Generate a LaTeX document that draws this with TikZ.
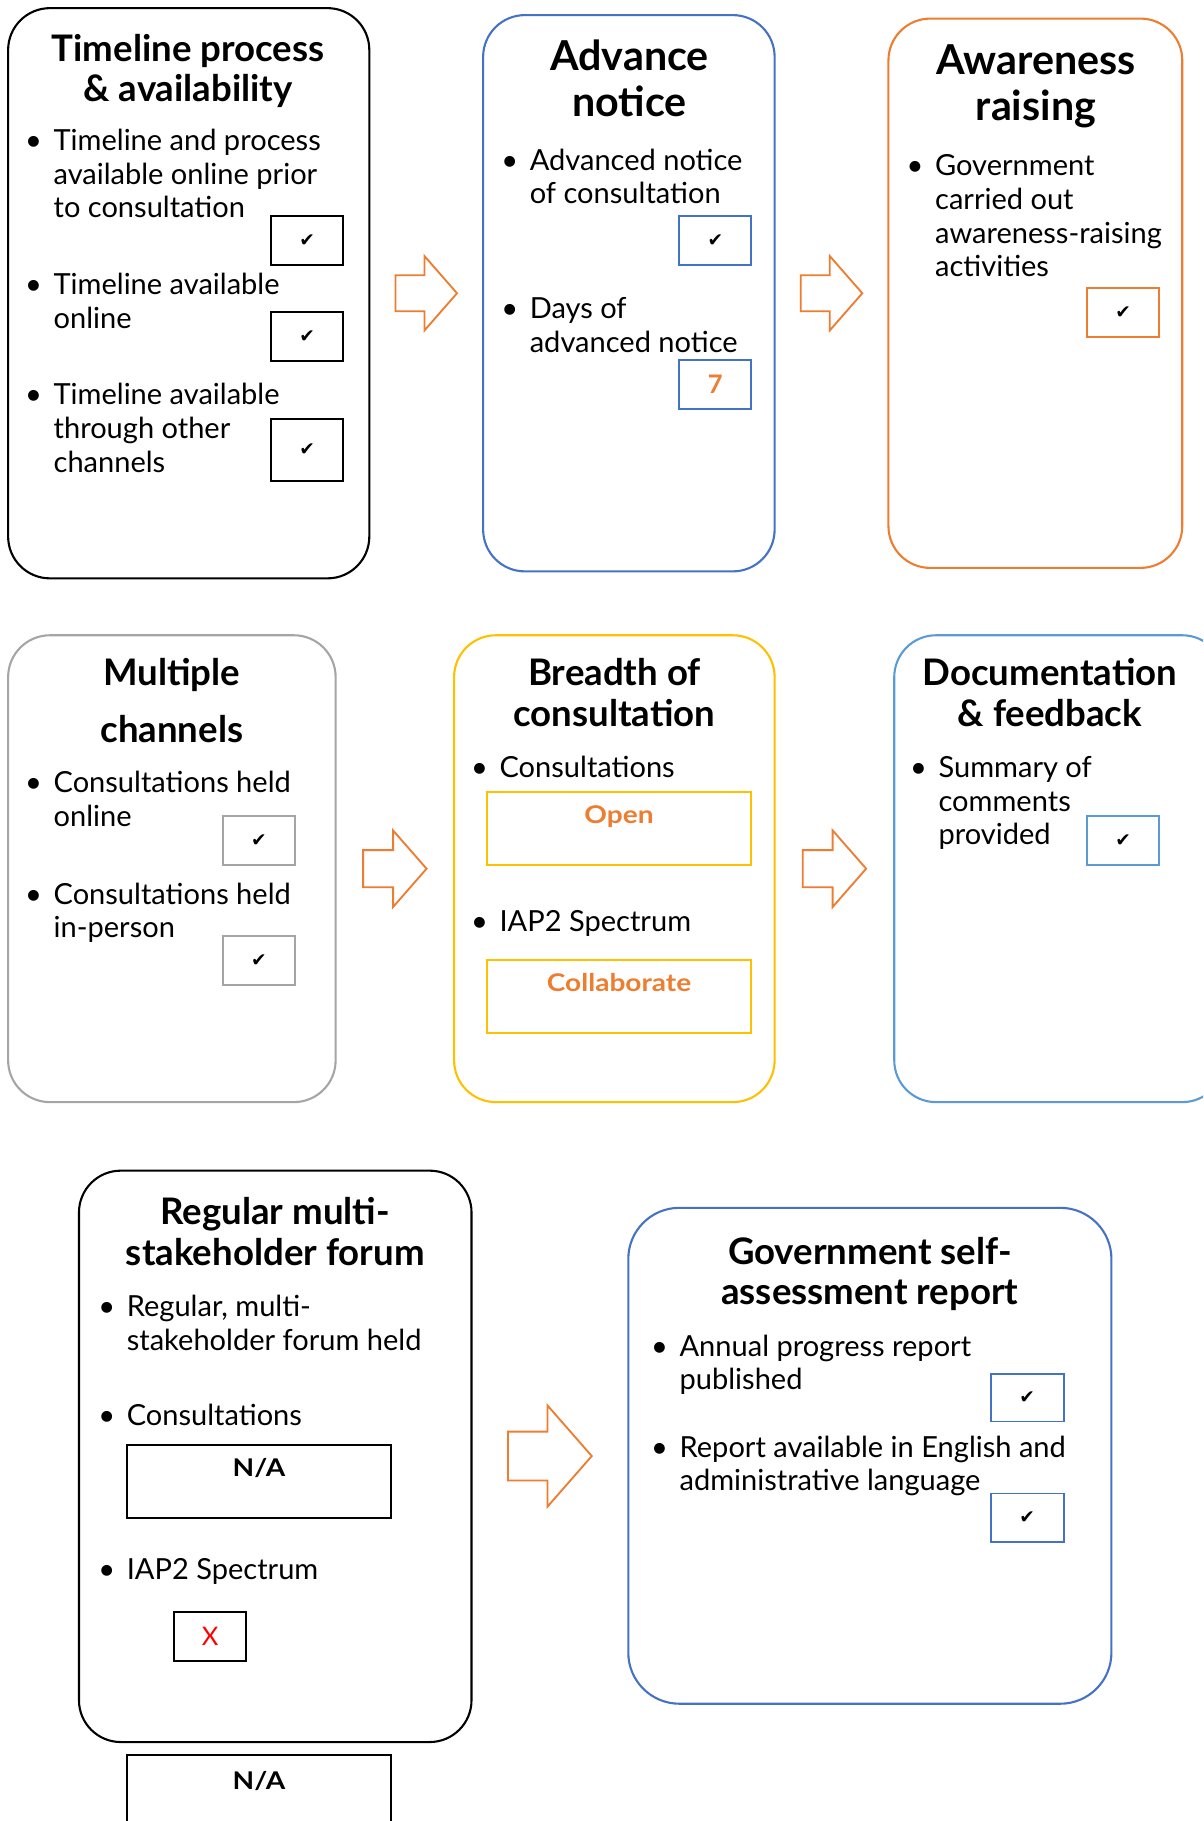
\documentclass[tikz,border=0pt]{standalone}
\usepackage{fontspec}
\setmainfont{Lato}
\newfontfamily\symfont{DejaVu Sans}
\usepackage{tikz}
\usetikzlibrary{positioning,calc}
\definecolor{cpOrange}{RGB}{237,125,49}
\definecolor{cpBlue}{RGB}{68,114,196}
\definecolor{cpSky}{RGB}{91,155,213}
\definecolor{cpGray}{RGB}{165,165,165}
\definecolor{cpGold}{RGB}{255,192,0}
\definecolor{cpRed}{RGB}{255,0,0}
\newcommand{\cpTick}{{\symfont\fontsize{16}{16}\selectfont ✔}}

\tikzset{
  panel/.style={draw, line width=1.8pt, rounded corners=36pt, inner sep=0pt},
  paneltitle/.style={font=\bfseries\fontsize{31.5}{35}\selectfont, align=center, anchor=north, inner sep=0pt},
  bigtitle/.style={paneltitle, font=\bfseries\fontsize{35.5}{40}\selectfont},
  item/.style={font=\fontsize{25}{29}\selectfont, align=left, anchor=north west, inner sep=0pt},
  tickbox/.style={draw, line width=1.6pt, minimum width=62pt, minimum height=42pt, inner sep=0pt},
  valuebox/.style={draw, line width=1.6pt, minimum width=228pt, minimum height=63pt, inner sep=0pt,
    text height=10pt, text depth=18pt,
    font=\bfseries\fontsize{21}{22}\selectfont\addfontfeatures{FakeStretch=1.15}},
  blockarrow/.pic={
    \draw[draw=cpOrange, line width=1.6pt, fill=white]
      (-26.5,-15.5) -- (-1.5,-15.5) -- (-1.5,-32) -- (26.5,0) -- (-1.5,32)
      -- (-1.5,15.5) -- (-26.5,15.5) -- cycle;
  }
}

\newcommand{\bul}{\llap{\textbullet\hspace{10pt}}}

\begin{document}
\begin{tikzpicture}[x=1pt, y=-1pt]
  \clip (0,0) rectangle (1036,1568);
  \fill[white] (0,0) rectangle (1036,1568);

  % Timeline process & availability
  \node[panel, minimum width=311pt, minimum height=491pt] (timeline) at (162.5,252.5) {};
  \node[paneltitle] (timelineT) at (162,29) {Timeline process\\\& availability};
  \node[item] (timeline1) at (46,111) {\bul Timeline and process\\available online prior\\to consultation};
  \node[tickbox] (timelineC1) at (264.5,207) {\cpTick};
  \node[item] (timeline2) at (46,235) {\bul Timeline available\\online};
  \node[tickbox] (timelineC2) at (264.5,290) {\cpTick};
  \node[item] (timeline3) at (46,330) {\bul Timeline available\\through other\\channels};
  \node[tickbox, minimum height=53pt] (timelineC3) at (264.5,387.5) {\cpTick};

  % Advance notice
  \node[panel, draw=cpBlue, minimum width=251pt, minimum height=479pt] (notice) at (541.5,252.5) {};
  \node[bigtitle] (noticeT) at (542,34) {Advance\\notice};
  \node[item] (notice1) at (456,128) {\bul Advanced notice\\of consultation};
  \node[tickbox, draw=cpBlue] (noticeC1) at (616,207) {\cpTick};
  \node[item] (notice2) at (456,256) {\bul Days of\\advanced notice};
  \node[tickbox, draw=cpBlue, font=\bfseries\fontsize{22}{22}\selectfont, text=cpOrange] (noticeC2) at (616,331) {7};

  % Awareness raising
  \node[panel, draw=cpOrange, minimum width=253pt, minimum height=473pt] (aware) at (891.5,252.5) {};
  \node[bigtitle] (awareT) at (892,38) {Awareness\\raising};
  \node[item] (aware1) at (805,133) {\bul Government\\carried out\\awareness-raising\\activities};
  \node[tickbox, draw=cpOrange] (awareC1) at (967,269) {\cpTick};

  % Multiple channels
  \node[panel, draw=cpGray, minimum width=282pt, minimum height=402pt] (channels) at (148,748) {};
  \node[paneltitle] (channelsT) at (148,567) {Multiple\\[14pt]channels};
  \node[item] (channels1) at (46,664) {\bul Consultations held\\online};
  \node[tickbox, draw=cpGray] (channelsC1) at (223,723.5) {\cpTick};
  \node[item] (channels2) at (46,760) {\bul Consultations held\\in-person};
  \node[tickbox, draw=cpGray] (channelsC2) at (223,827) {\cpTick};

  % Breadth of consultation
  \node[panel, draw=cpGold, minimum width=276pt, minimum height=402pt] (breadth) at (529,748) {};
  \node[paneltitle] (breadthT) at (529,567) {Breadth of\\consultation};
  \node[item] (breadth1) at (430,651) {\bul Consultations};
  \node[valuebox, draw=cpGold, text=cpOrange] (breadthV1) at (533,713.5) {Open};
  \node[item] (breadth2) at (430,784) {\bul IAP2 Spectrum};
  \node[valuebox, draw=cpGold, text=cpOrange] (breadthV2) at (533,858) {Collaborate};

  % Documentation & feedback
  \node[panel, draw=cpSky, minimum width=284pt, minimum height=402pt] (docs) at (912,748) {};
  \node[paneltitle] (docsT) at (904,567) {Documentation\\\& feedback};
  \node[item] (docs1) at (808,651) {\bul Summary of\\comments\\provided};
  \node[tickbox, draw=cpSky] (docsC1) at (967,723.5) {\cpTick};

  % Regular multi-stakeholder forum
  \node[panel, minimum width=338pt, minimum height=492pt] (forum) at (237,1254) {};
  \node[paneltitle] (forumT) at (237,1031) {Regular multi-\\stakeholder forum};
  \node[item] (forum1) at (109,1115) {\bul Regular, multi-\\stakeholder forum held};
  \node[item] (forum2) at (109,1209) {\bul Consultations};
  \node[valuebox] (forumV1) at (223,1275.5) {N/A};
  \node[item] (forum3) at (109,1342) {\bul IAP2 Spectrum};
  \node[tickbox, font=\fontsize{22}{22}\selectfont, text=cpRed] (forumV2) at (181,1409) {X};
  \node[valuebox, minimum height=68pt] (forumV3) at (223,1545) {N/A};

  % Government self-assessment report
  \node[panel, draw=cpBlue, minimum width=416pt, minimum height=427pt, rounded corners=44pt] (report) at (749,1253.5) {};
  \node[paneltitle] (reportT) at (749,1065) {Government self-\\assessment report};
  \node[item] (report1) at (585,1149) {\bul Annual progress report\\published};
  \node[tickbox, draw=cpBlue, minimum width=63pt, minimum height=41pt] (reportC1) at (884.5,1203.5) {\cpTick};
  \node[item] (report2) at (585,1236) {\bul Report available in English and\\administrative language};
  \node[tickbox, draw=cpBlue, minimum width=63pt] (reportC2) at (884.5,1307) {\cpTick};

  % Arrows between panels
  \coordinate (arrAB) at ($(timeline.east)!0.5!(notice.west)$);
  \coordinate (arrBC) at ($(notice.east)!0.5!(aware.west)$);
  \coordinate (arrDE) at ($(channels.east)!0.5!(breadth.west)$);
  \coordinate (arrEF) at ($(breadth.east)!0.5!(docs.west)$);
  \coordinate (arrGH) at ($(forum.east)!0.5!(report.west)$);
  \pic at (arrAB) {blockarrow};
  \pic at (arrBC) {blockarrow};
  \pic[scale=1.03] at (arrDE) {blockarrow};
  \pic[scale=1.03] at (arrEF) {blockarrow};
  \pic[scale=1.36] at (arrGH) {blockarrow};
\end{tikzpicture}
\end{document}
